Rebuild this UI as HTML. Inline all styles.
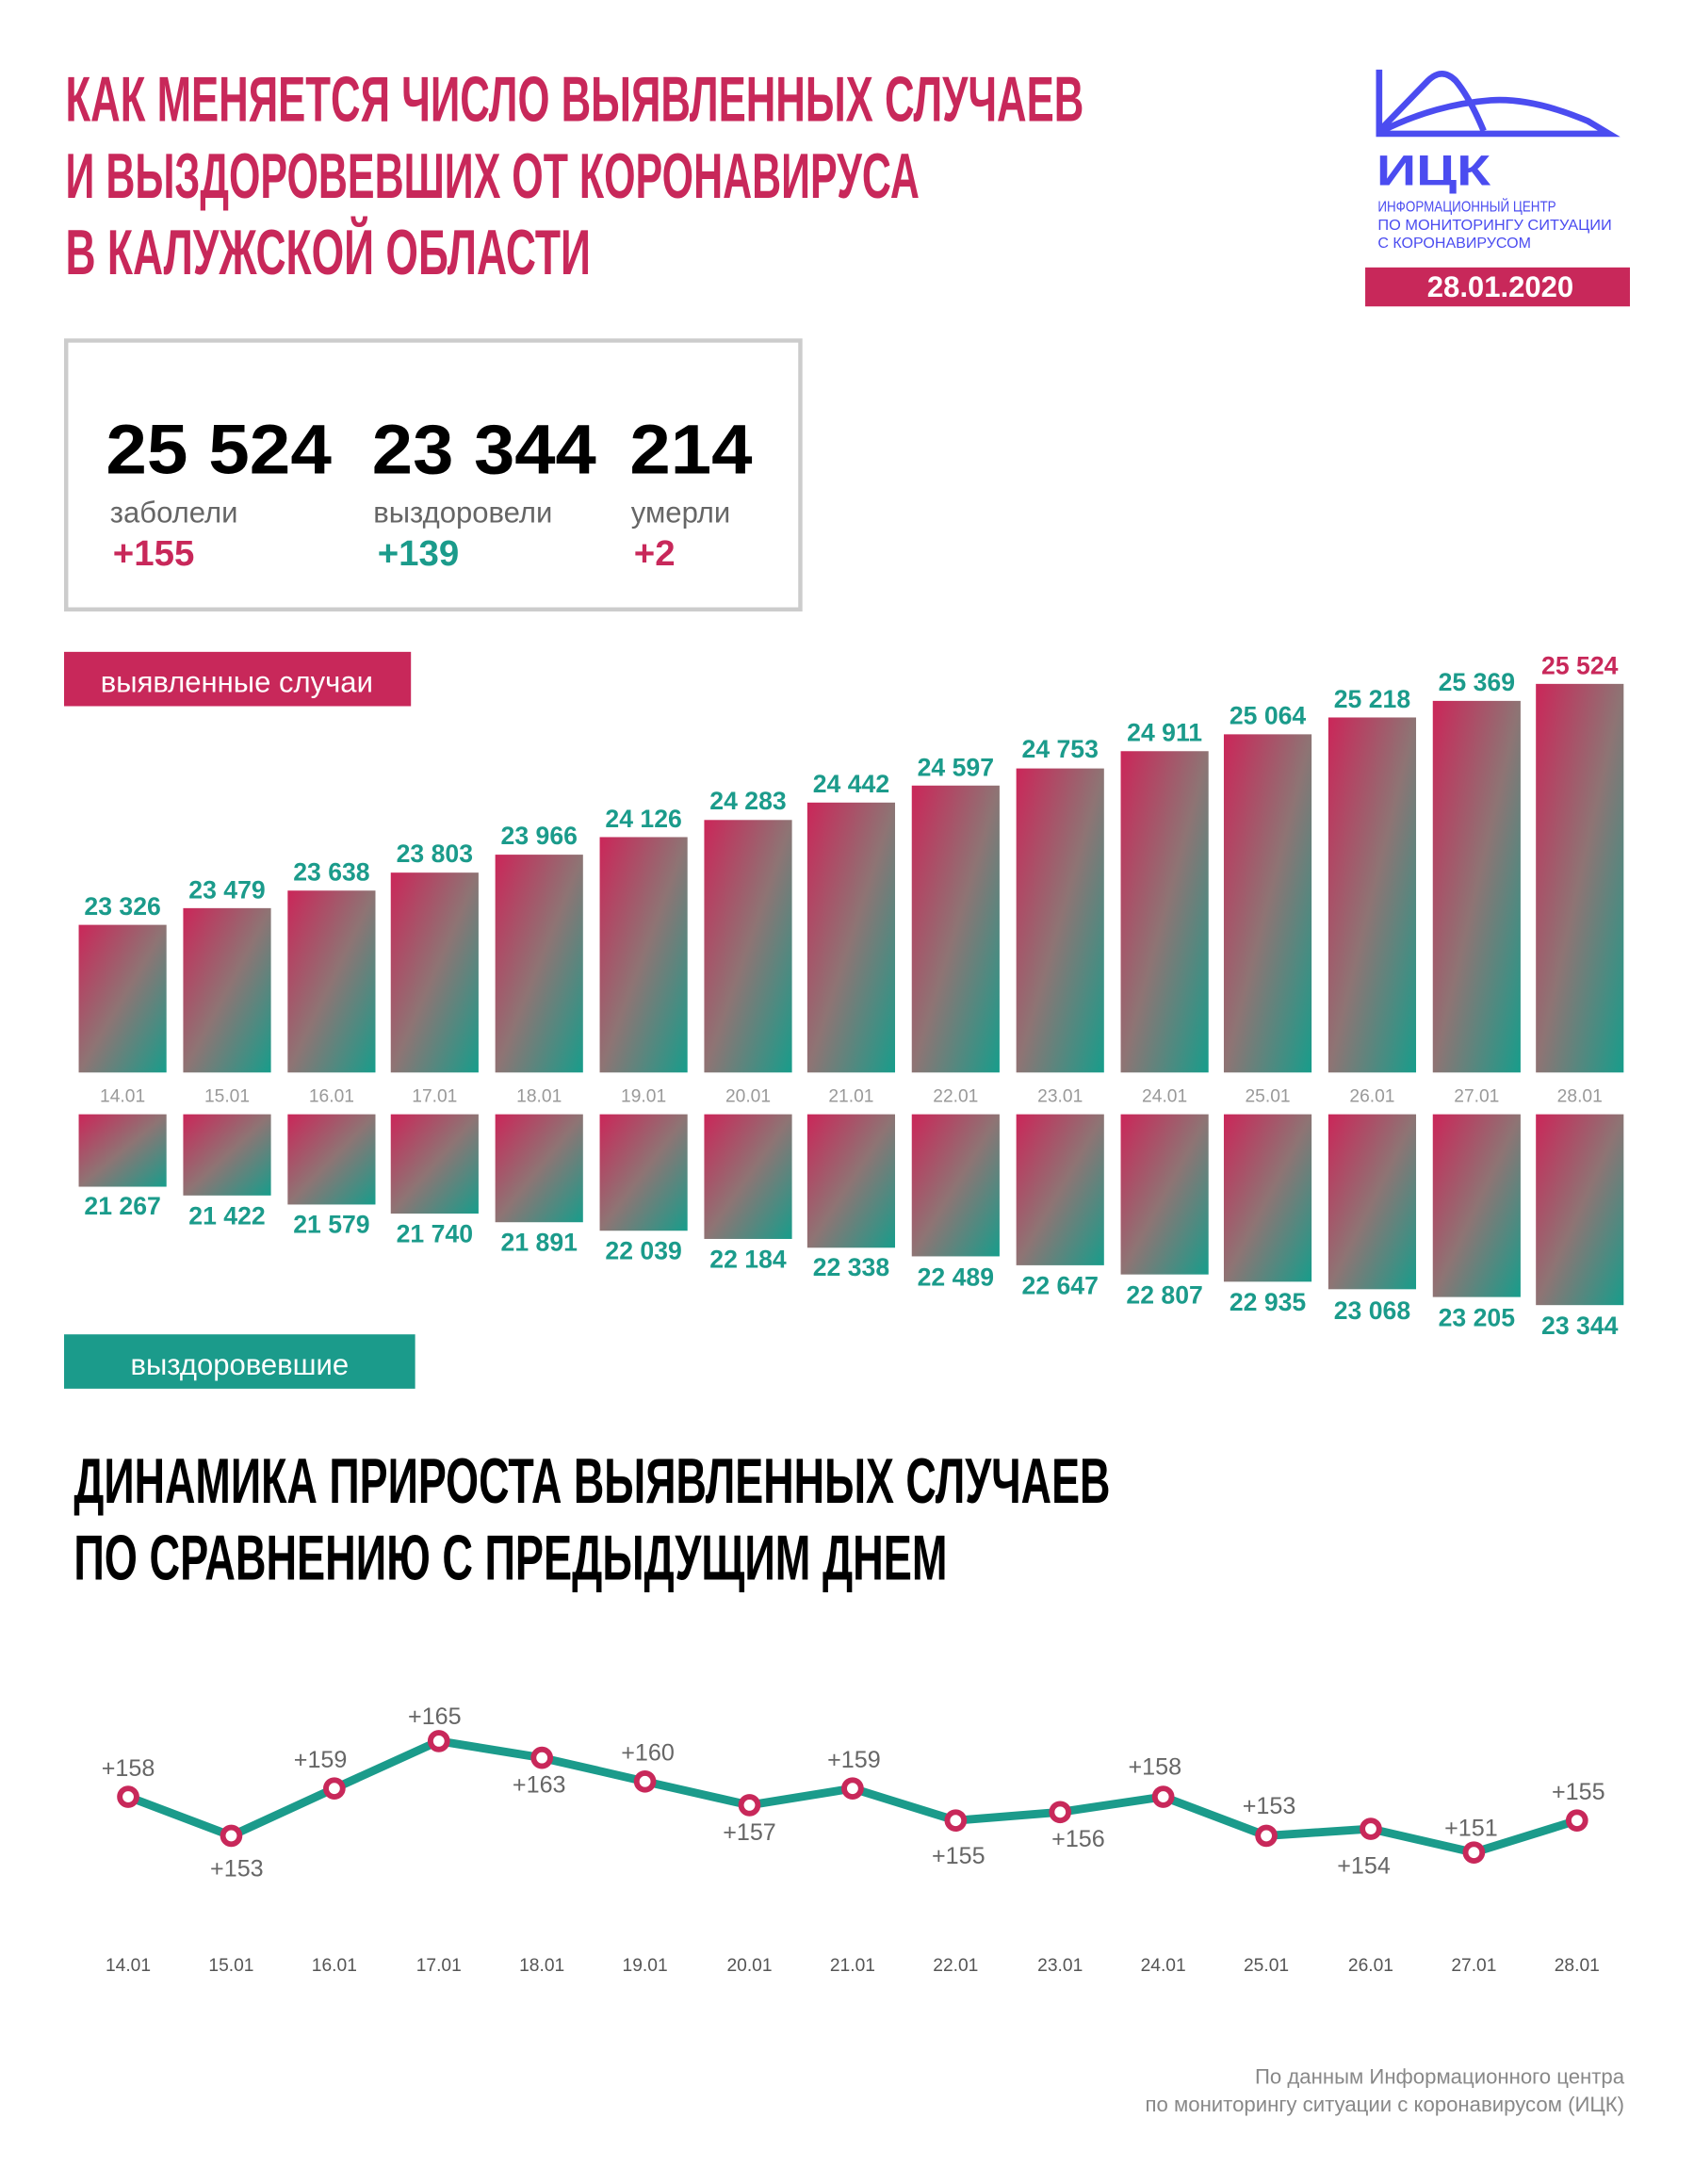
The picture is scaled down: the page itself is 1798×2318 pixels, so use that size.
<!DOCTYPE html>
<html><head><meta charset="utf-8"><style>
html,body{margin:0;padding:0;background:#fff;width:1798px;height:2318px;overflow:hidden}
svg{display:block}
.h{font-family:"Liberation Sans Narrow","Liberation Sans",sans-serif;font-weight:bold}
.s{font-family:"Liberation Sans",sans-serif}
</style></head><body>
<svg width="1798" height="2318" viewBox="0 0 1216 1568" preserveAspectRatio="none" xmlns="http://www.w3.org/2000/svg">
<defs>
<linearGradient id="g" x1="0" y1="0" x2="1" y2="1"><stop offset="0" stop-color="#cb2659"/><stop offset="0.5" stop-color="#8e7474"/><stop offset="1" stop-color="#179d8b"/></linearGradient>
</defs>
<rect width="1216" height="1568" fill="#fff"/>
<g class="h" fill="#c8285a" font-size="46">
<text x="47" y="87" textLength="731" lengthAdjust="spacingAndGlyphs">КАК МЕНЯЕТСЯ ЧИСЛО ВЫЯВЛЕННЫХ СЛУЧАЕВ</text>
<text x="47" y="142" textLength="613" lengthAdjust="spacingAndGlyphs">И ВЫЗДОРОВЕВШИХ ОТ КОРОНАВИРУСА</text>
<text x="47" y="197" textLength="377" lengthAdjust="spacingAndGlyphs">В КАЛУЖСКОЙ ОБЛАСТИ</text>
</g>
<g fill="none" stroke="#4b4cf0" stroke-width="4.5">
<path d="M990 50 V96 H1155 L1140 87 Q1100 70 1070 72 Q1030 75 992 94"/>
<path d="M992 92 L1025 58 Q1035 48 1045 58 Q1055 70 1065 94"/>
</g>
<text x="988" y="133" class="s" font-weight="bold" font-size="31" fill="#4b4cf0" textLength="82" lengthAdjust="spacingAndGlyphs">ИЦК</text>
<g class="s" font-size="10.5" fill="#4b4cf0">
<text x="989" y="152" textLength="128" lengthAdjust="spacingAndGlyphs">ИНФОРМАЦИОННЫЙ ЦЕНТР</text>
<text x="989" y="165" textLength="168" lengthAdjust="spacingAndGlyphs">ПО МОНИТОРИНГУ СИТУАЦИИ</text>
<text x="989" y="178" textLength="110" lengthAdjust="spacingAndGlyphs">С КОРОНАВИРУСОМ</text>
</g>
<rect x="980" y="192" width="190" height="28" fill="#c8285a"/>
<text x="1077" y="213" class="s" font-weight="bold" font-size="21" fill="#fff" text-anchor="middle">28.01.2020</text>
<rect x="47.5" y="244.5" width="527" height="193" fill="#fff" stroke="#ccc" stroke-width="3"/>
<g class="s" font-weight="bold" font-size="50" fill="#000">
<text x="76" y="340" textLength="162" lengthAdjust="spacingAndGlyphs">25 524</text>
<text x="267" y="340" textLength="161" lengthAdjust="spacingAndGlyphs">23 344</text>
<text x="452" y="340" textLength="88" lengthAdjust="spacingAndGlyphs">214</text>
</g>
<g class="s" font-size="21" fill="#666">
<text x="79" y="375">заболели</text><text x="268" y="375">выздоровели</text><text x="453" y="375">умерли</text>
</g>
<g class="s" font-weight="bold" font-size="26">
<text x="81" y="406" fill="#c8285a">+155</text><text x="271" y="406" fill="#1b9b8b">+139</text><text x="455" y="406" fill="#c8285a">+2</text>
</g>
<rect x="46" y="468" width="249" height="39" fill="#c8285a"/>
<text x="170" y="497" class="s" font-size="21" fill="#fff" text-anchor="middle">выявленные случаи</text>
<rect x="46" y="958" width="252" height="39" fill="#1b9b8b"/>
<text x="172" y="987" class="s" font-size="21" fill="#fff" text-anchor="middle">выздоровевшие</text>
<g fill="url(#g)">
<rect x="56.5" y="664" width="63" height="106"/>
<rect x="131.5" y="652" width="63" height="118"/>
<rect x="206.5" y="639.4" width="63" height="130.6"/>
<rect x="280.5" y="626.5" width="63" height="143.5"/>
<rect x="355.5" y="613.6" width="63" height="156.4"/>
<rect x="430.5" y="601" width="63" height="169"/>
<rect x="505.5" y="588.7" width="63" height="181.3"/>
<rect x="579.5" y="576.2" width="63" height="193.8"/>
<rect x="654.5" y="564" width="63" height="206"/>
<rect x="729.5" y="551.7" width="63" height="218.3"/>
<rect x="804.5" y="539.3" width="63" height="230.7"/>
<rect x="878.5" y="527.2" width="63" height="242.8"/>
<rect x="953.5" y="515.1" width="63" height="254.9"/>
<rect x="1028.5" y="503.2" width="63" height="266.8"/>
<rect x="1102.5" y="491" width="63" height="279"/>
<rect x="56.5" y="800" width="63" height="52"/>
<rect x="131.5" y="800" width="63" height="58.3"/>
<rect x="206.5" y="800" width="63" height="64.8"/>
<rect x="280.5" y="800" width="63" height="71.3"/>
<rect x="355.5" y="800" width="63" height="77.5"/>
<rect x="430.5" y="800" width="63" height="83.6"/>
<rect x="505.5" y="800" width="63" height="89.5"/>
<rect x="579.5" y="800" width="63" height="95.8"/>
<rect x="654.5" y="800" width="63" height="102"/>
<rect x="729.5" y="800" width="63" height="108.4"/>
<rect x="804.5" y="800" width="63" height="115"/>
<rect x="878.5" y="800" width="63" height="120.2"/>
<rect x="953.5" y="800" width="63" height="125.6"/>
<rect x="1028.5" y="800" width="63" height="131.2"/>
<rect x="1102.5" y="800" width="63" height="137"/>
</g>
<g class="s" font-weight="bold" font-size="18" fill="#1b9b8b" text-anchor="middle">
<text x="88" y="657">23 326</text><text x="163" y="645">23 479</text><text x="238" y="632">23 638</text>
<text x="312" y="619">23 803</text><text x="387" y="606">23 966</text><text x="462" y="594">24 126</text>
<text x="537" y="581">24 283</text><text x="611" y="569">24 442</text><text x="686" y="557">24 597</text>
<text x="761" y="544">24 753</text><text x="836" y="532">24 911</text><text x="910" y="520">25 064</text>
<text x="985" y="508">25 218</text><text x="1060" y="496">25 369</text><text x="1134" y="484" fill="#c8285a">25 524</text>
<text x="88" y="872">21 267</text><text x="163" y="879">21 422</text><text x="238" y="885">21 579</text>
<text x="312" y="892">21 740</text><text x="387" y="898">21 891</text><text x="462" y="904">22 039</text>
<text x="537" y="910">22 184</text><text x="611" y="916">22 338</text><text x="686" y="923">22 489</text>
<text x="761" y="929">22 647</text><text x="836" y="936">22 807</text><text x="910" y="941">22 935</text>
<text x="985" y="947">23 068</text><text x="1060" y="952">23 205</text><text x="1134" y="958">23 344</text>
</g>
<g class="s" font-size="13" fill="#999" text-anchor="middle">
<text x="88" y="791">14.01</text><text x="163" y="791">15.01</text><text x="238" y="791">16.01</text><text x="312" y="791">17.01</text><text x="387" y="791">18.01</text><text x="462" y="791">19.01</text><text x="537" y="791">20.01</text><text x="611" y="791">21.01</text><text x="686" y="791">22.01</text><text x="761" y="791">23.01</text><text x="836" y="791">24.01</text><text x="910" y="791">25.01</text><text x="985" y="791">26.01</text><text x="1060" y="791">27.01</text><text x="1134" y="791">28.01</text>
</g>
<g class="h" fill="#000" font-size="46">
<text x="53" y="1079" textLength="744" lengthAdjust="spacingAndGlyphs">ДИНАМИКА ПРИРОСТА ВЫЯВЛЕННЫХ СЛУЧАЕВ</text>
<text x="53" y="1134" textLength="627" lengthAdjust="spacingAndGlyphs">ПО СРАВНЕНИЮ С ПРЕДЫДУЩИМ ДНЕМ</text>
</g>
<polyline fill="none" stroke="#1b9b8b" stroke-width="6" stroke-linejoin="round" points="92,1290 166,1318 240,1284 315,1250 389,1262 463,1279 538,1296 612,1284 686,1307 761,1301 835,1290 909,1318 984,1313 1058,1330 1132,1307"/>
<g fill="#fff" stroke="#c8285a" stroke-width="4">
<circle cx="92" cy="1290" r="6"/><circle cx="166" cy="1318" r="6"/><circle cx="240" cy="1284" r="6"/><circle cx="315" cy="1250" r="6"/><circle cx="389" cy="1262" r="6"/><circle cx="463" cy="1279" r="6"/><circle cx="538" cy="1296" r="6"/><circle cx="612" cy="1284" r="6"/><circle cx="686" cy="1307" r="6"/><circle cx="761" cy="1301" r="6"/><circle cx="835" cy="1290" r="6"/><circle cx="909" cy="1318" r="6"/><circle cx="984" cy="1313" r="6"/><circle cx="1058" cy="1330" r="6"/><circle cx="1132" cy="1307" r="6"/>
</g>
<g class="s" font-size="17" fill="#666" text-anchor="middle">
<text x="92" y="1275">+158</text><text x="170" y="1347">+153</text><text x="230" y="1269">+159</text><text x="312" y="1238">+165</text><text x="387" y="1287">+163</text><text x="465" y="1264">+160</text><text x="538" y="1321">+157</text><text x="613" y="1269">+159</text><text x="688" y="1338">+155</text><text x="774" y="1326">+156</text><text x="829" y="1274">+158</text><text x="911" y="1302">+153</text><text x="979" y="1345">+154</text><text x="1056" y="1318">+151</text><text x="1133" y="1292">+155</text>
</g>
<g class="s" font-size="13" fill="#555" text-anchor="middle">
<text x="92" y="1415">14.01</text><text x="166" y="1415">15.01</text><text x="240" y="1415">16.01</text><text x="315" y="1415">17.01</text><text x="389" y="1415">18.01</text><text x="463" y="1415">19.01</text><text x="538" y="1415">20.01</text><text x="612" y="1415">21.01</text><text x="686" y="1415">22.01</text><text x="761" y="1415">23.01</text><text x="835" y="1415">24.01</text><text x="909" y="1415">25.01</text><text x="984" y="1415">26.01</text><text x="1058" y="1415">27.01</text><text x="1132" y="1415">28.01</text>
</g>
<g class="s" font-size="15" fill="#888" text-anchor="end">
<text x="1166" y="1496">По данным Информационного центра</text>
<text x="1166" y="1516">по мониторингу ситуации с коронавирусом (ИЦК)</text>
</g>
</svg>
</body></html>
